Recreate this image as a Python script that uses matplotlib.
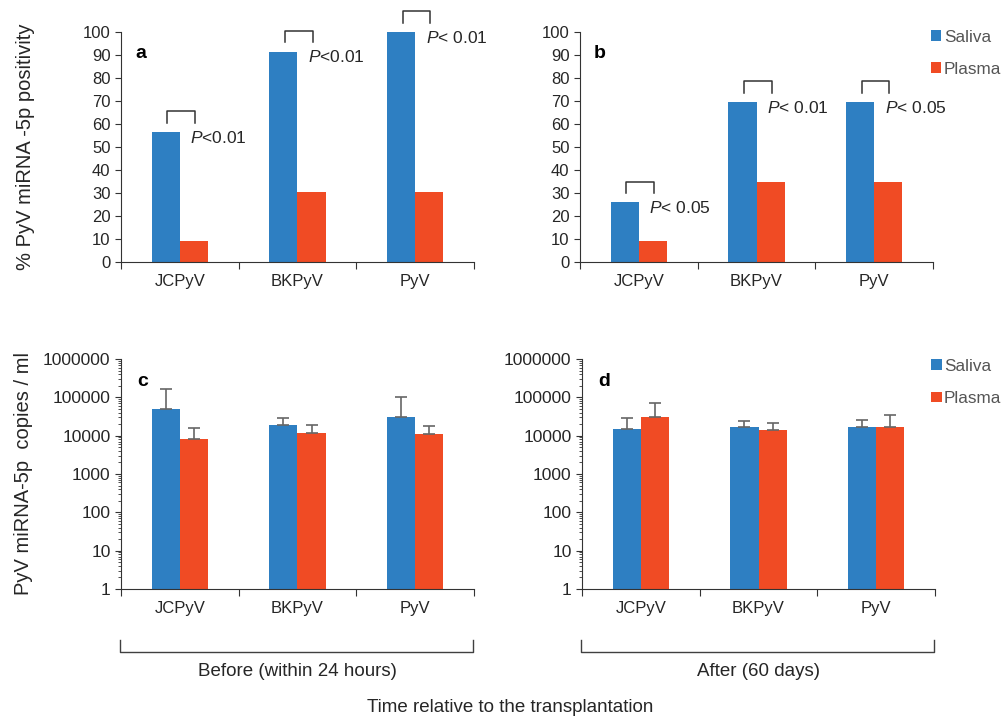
import numpy as np
import matplotlib
matplotlib.use('Agg')
import matplotlib.pyplot as plt
from matplotlib.ticker import LogLocator, FixedLocator, NullFormatter

plt.rcParams['font.family'] = ['Liberation Sans', 'DejaVu Sans']
plt.rcParams['mathtext.fontset'] = 'custom'
plt.rcParams['mathtext.rm'] = 'Liberation Sans'
plt.rcParams['mathtext.it'] = 'Liberation Sans:italic'

# data
categories = ['JCPyV', 'BKPyV', 'PyV']

pos_before_saliva = [56.5, 91.5, 100]
pos_before_plasma = [9, 30.5, 30.5]
pos_after_saliva = [26, 69.5, 69.5]
pos_after_plasma = [9, 35, 35]
p_before = ['<0.01', '<0.01', '< 0.01']
p_after = ['< 0.05', '< 0.01', '< 0.05']

copies_before_saliva = [50000, 19000, 31000]
copies_before_saliva_top = [166000, 29000, 100000]
copies_before_plasma = [8300, 12000, 11000]
copies_before_plasma_top = [16000, 19000, 18000]
copies_after_saliva = [15000, 17000, 17000]
copies_after_saliva_top = [29000, 24500, 26000]
copies_after_plasma = [31000, 14000, 17000]
copies_after_plasma_top = [72000, 21500, 35000]

SALIVA = '#2e7fc2'
PLASMA = '#f04b24'
TXT = '#262626'
W = 0.24

fig = plt.figure(figsize=(10.01, 7.18), dpi=100)
ax_a = fig.add_axes([0.1209, 0.6351, 0.3526, 0.3203])
ax_b = fig.add_axes([0.5794, 0.6351, 0.3527, 0.3203])
ax_c = fig.add_axes([0.1209, 0.1797, 0.3526, 0.3203])
ax_d = fig.add_axes([0.5814, 0.1797, 0.3527, 0.3203])

x = np.arange(len(categories))


def style(ax, ysize):
    for s in ('top', 'right'):
        ax.spines[s].set_visible(False)
    for s in ('left', 'bottom'):
        ax.spines[s].set_color('#333333')
    ax.set_xlim(-0.5, 2.5)
    ax.xaxis.set_major_locator(FixedLocator([-0.5, 0.5, 1.5, 2.5]))
    ax.xaxis.set_major_formatter(NullFormatter())
    ax.xaxis.set_minor_locator(FixedLocator(x))
    ax.set_xticklabels(categories, minor=True)
    ax.tick_params(axis='x', which='major', length=5, color='#333333')
    ax.tick_params(axis='x', which='minor', length=0, pad=9,
                   labelsize=12, labelcolor=TXT)
    ax.tick_params(axis='y', which='both', color='#333333',
                   labelsize=ysize, labelcolor=TXT)


def positivity(ax, sal, pla, pvals, letter):
    ax.bar(x - W / 2, sal, W, color=SALIVA, label='Saliva')
    ax.bar(x + W / 2, pla, W, color=PLASMA, label='Plasma')
    style(ax, 12)
    ax.set_ylim(0, 100)
    ax.set_yticks(np.arange(0, 101, 10))
    ax.tick_params(axis='y', length=4)
    for xi, s, p in zip(x, sal, pvals):
        bx = [xi - W / 2 + 0.015, xi - W / 2 + 0.015,
              xi + W / 2 + 0.01, xi + W / 2 + 0.01]
        by = [s + 4, s + 9, s + 9, s + 4]
        ax.plot(bx, by, color='#333333', lw=1.1, clip_on=False)
        ax.text(xi + 0.09, s - 2.5, '$P$' + p, fontsize=12.5, color=TXT,
                ha='left', va='center')
    ax.text(0.04, 0.905, letter, transform=ax.transAxes, fontsize=14,
            fontweight='bold', ha='left', va='center')


def copies(ax, sal, sal_top, pla, pla_top, letter):
    sal = np.array(sal)
    pla = np.array(pla)
    eb = dict(ecolor='#666666', elinewidth=1.2, capsize=4, capthick=1.2)
    ax.bar(x - W / 2, sal, W, color=SALIVA, label='Saliva',
           yerr=[np.zeros(3), np.array(sal_top) - sal], error_kw=eb)
    ax.bar(x + W / 2, pla, W, color=PLASMA, label='Plasma',
           yerr=[np.zeros(3), np.array(pla_top) - pla], error_kw=eb)
    style(ax, 12.5)
    ax.set_yscale('log')
    ax.set_ylim(1, 1e6)
    ax.yaxis.set_minor_locator(LogLocator(base=10, subs=np.arange(2, 10),
                                          numticks=20))
    ax.yaxis.set_minor_formatter(NullFormatter())
    ax.set_yticks([1, 10, 100, 1000, 10000, 100000, 1000000])
    ax.set_yticklabels(['1', '10', '100', '1000', '10000', '100000',
                        '1000000'])
    ax.tick_params(axis='y', which='major', length=4)
    ax.tick_params(axis='y', which='minor', length=2.5)
    ax.text(0.045, 0.9, letter, transform=ax.transAxes, fontsize=14,
            fontweight='bold', ha='left', va='center')


positivity(ax_a, pos_before_saliva, pos_before_plasma, p_before, 'a')
positivity(ax_b, pos_after_saliva, pos_after_plasma, p_after, 'b')
copies(ax_c, copies_before_saliva, copies_before_saliva_top,
       copies_before_plasma, copies_before_plasma_top, 'c')
copies(ax_d, copies_after_saliva, copies_after_saliva_top,
       copies_after_plasma, copies_after_plasma_top, 'd')

ax_a.set_ylabel('% PyV miRNA -5p positivity', fontsize=14.5, color=TXT)
ax_c.set_ylabel('PyV miRNA-5p  copies / ml', fontsize=14.5, color=TXT)
ax_a.yaxis.set_label_coords(-0.245, 0.5)
ax_c.yaxis.set_label_coords(-0.25, 0.5)

for ax, anchor in ((ax_b, (0.975, 1.04)), (ax_d, (0.97, 1.03))):
    ax.legend(loc='upper left', bbox_to_anchor=anchor, frameon=False,
              fontsize=12.3, handlelength=0.6, handleheight=0.6,
              handletextpad=0.15, labelspacing=1.0, labelcolor='#555555',
              borderaxespad=0)

# group brackets under the lower panels
for ax, label in ((ax_c, 'Before (within 24 hours)'),
                  (ax_d, 'After (60 days)')):
    trans = ax.get_xaxis_transform()
    ax.plot([-0.51, -0.51, 2.49, 2.49], [-0.222, -0.274, -0.274, -0.222],
            color='#404040', lw=1, transform=trans, clip_on=False)
    ax.text(1.0, -0.36, label, transform=trans, fontsize=13.5, color=TXT,
            ha='center', va='center')

fig.text(0.51, 0.014, 'Time relative to the transplantation', fontsize=13.5,
         color=TXT, ha='center', va='center')

fig.savefig('out.png', dpi=100)
